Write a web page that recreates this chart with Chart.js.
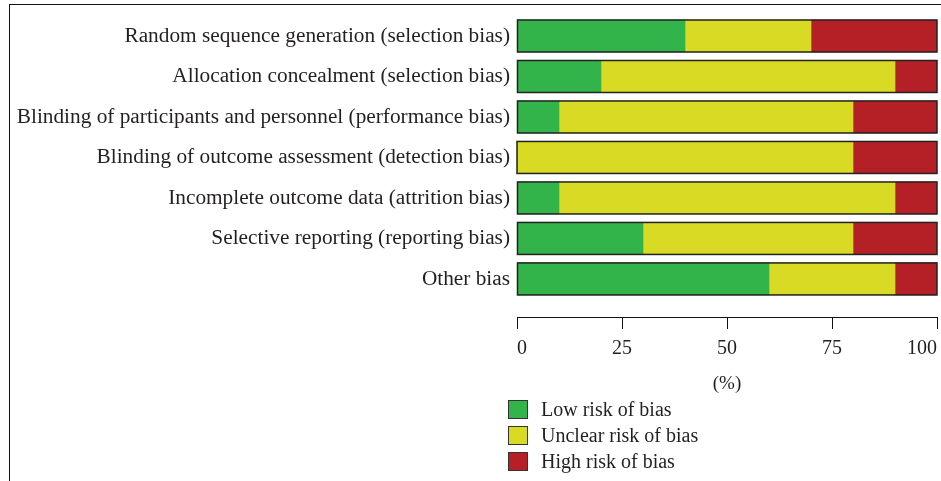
<!DOCTYPE html>
<html>
<head>
<meta charset="utf-8">
<script src="https://cdn.jsdelivr.net/npm/chart.js@4.4.1/dist/chart.umd.min.js"></script>
<style>
  html, body { margin: 0; padding: 0; background: #fff; }
  #wrap { position: relative; width: 941px; height: 481px; overflow: hidden; }
  #frame { position: absolute; left: 9px; top: 4px; right: 0; bottom: 0;
           border-top: 1px solid #111; border-left: 1px solid #111; pointer-events: none; }
  #legend { position: absolute; left: 508px; top: 396px; font-family: "Liberation Serif", serif;
            font-size: 20px; color: #231f20; }
  .item { display: flex; align-items: center; height: 26px; }
  .box { width: 18px; height: 17px; border: 1px solid #333; margin-right: 13px; box-sizing: content-box; }
  canvas { position: absolute; left: 0; top: 0; }
</style>
</head>
<body>
<div id="wrap">
  <canvas id="c" width="941" height="481"></canvas>
  <div id="frame"></div>
  <div id="legend"></div>
</div>
<script>
const categories = [
  "Random sequence generation (selection bias)",
  "Allocation concealment (selection bias)",
  "Blinding of participants and personnel (performance bias)",
  "Blinding of outcome assessment (detection bias)",
  "Incomplete outcome data (attrition bias)",
  "Selective reporting (reporting bias)",
  "Other bias"
];
const lowRisk     = [40, 20, 10, 0, 10, 30, 60];
const unclearRisk = [30, 70, 70, 80, 80, 50, 30];
const highRisk    = [30, 10, 20, 20, 10, 20, 10];
const seriesNames = ["Low risk of bias", "Unclear risk of bias", "High risk of bias"];
const seriesColors = ["#33b44a", "#d9da24", "#b52027"];
const xTicks = [0, 25, 50, 75, 100];
const axisTitle = "(%)";

const FONT = "'Liberation Serif', serif";
const TEXT = "#231f20";

const toPoints = arr => arr.map((v, i) => ({ x: v, y: i }));
const seriesValues = [lowRisk, unclearRisk, highRisk];

const outlinePlugin = {
  id: 'outline',
  afterDatasetsDraw(chart) {
    const ctx = chart.ctx;
    const metas = chart.data.datasets.map((d, i) => chart.getDatasetMeta(i));
    for (let i = 0; i < categories.length; i++) {
      let left = Infinity, right = -Infinity, y = 0, h = 0;
      metas.forEach(m => {
        const el = m.data[i];
        if (!el) return;
        const p = el.getProps(['x', 'y', 'base', 'height'], true);
        left = Math.min(left, p.base, p.x);
        right = Math.max(right, p.base, p.x);
        y = p.y; h = p.height;
      });
      ctx.save();
      ctx.strokeStyle = '#222';
      ctx.lineWidth = 1.5;
      ctx.strokeRect(left, y - h / 2, right - left, h);
      ctx.restore();
    }
  }
};

new Chart(document.getElementById('c'), {
  type: 'bar',
  data: {
    datasets: seriesNames.map((name, k) => ({
      label: name,
      data: toPoints(seriesValues[k]),
      backgroundColor: seriesColors[k],
      borderWidth: 0,
      barThickness: 32
    }))
  },
  options: {
    indexAxis: 'y',
    responsive: false,
    animation: false,
    devicePixelRatio: 1,
    layout: { padding: { top: 15.75, left: 0, right: 4, bottom: 86 } },
    plugins: { legend: { display: false }, tooltip: { enabled: false } },
    scales: {
      x: {
        type: 'linear',
        stacked: true,
        min: 0, max: 100,
        afterBuildTicks: s => { s.ticks = xTicks.map(v => ({ value: v })); },
        afterFit: s => { s.paddingLeft = 0; s.paddingRight = 0; s.height = 78; },
        grid: { drawOnChartArea: false, drawTicks: true, tickLength: 12, color: '#111', lineWidth: 1 },
        border: { display: true, color: '#111', width: 1 },
        ticks: { align: 'inner', padding: 8, color: TEXT, font: { family: FONT, size: 20 } },
        title: { display: true, text: axisTitle, color: TEXT, font: { family: FONT, size: 19 },
                 padding: { top: 0, bottom: 0 } }
      },
      y: {
        type: 'linear',
        stacked: true,
        reverse: true,
        offset: false,
        min: -0.5, max: 6.94,
        afterBuildTicks: s => { s.ticks = categories.map((c, i) => ({ value: i })); },
        afterFit: s => { s.width = 517; s.paddingTop = 0; s.paddingBottom = 0; },
        grid: { display: false, drawTicks: false, offset: false },
        border: { display: false },
        ticks: {
          autoSkip: false,
          padding: 7,
          color: TEXT,
          font: { family: FONT, size: 21.3 },
          callback: v => (Number.isInteger(v) && categories[v] !== undefined) ? categories[v] : ''
        }
      }
    }
  },
  plugins: [outlinePlugin]
});

const legend = document.getElementById('legend');
seriesNames.forEach((name, k) => {
  const item = document.createElement('div');
  item.className = 'item';
  const box = document.createElement('div');
  box.className = 'box';
  box.style.background = seriesColors[k];
  const t = document.createElement('span');
  t.textContent = name;
  item.appendChild(box);
  item.appendChild(t);
  legend.appendChild(item);
});
</script>
</body>
</html>
